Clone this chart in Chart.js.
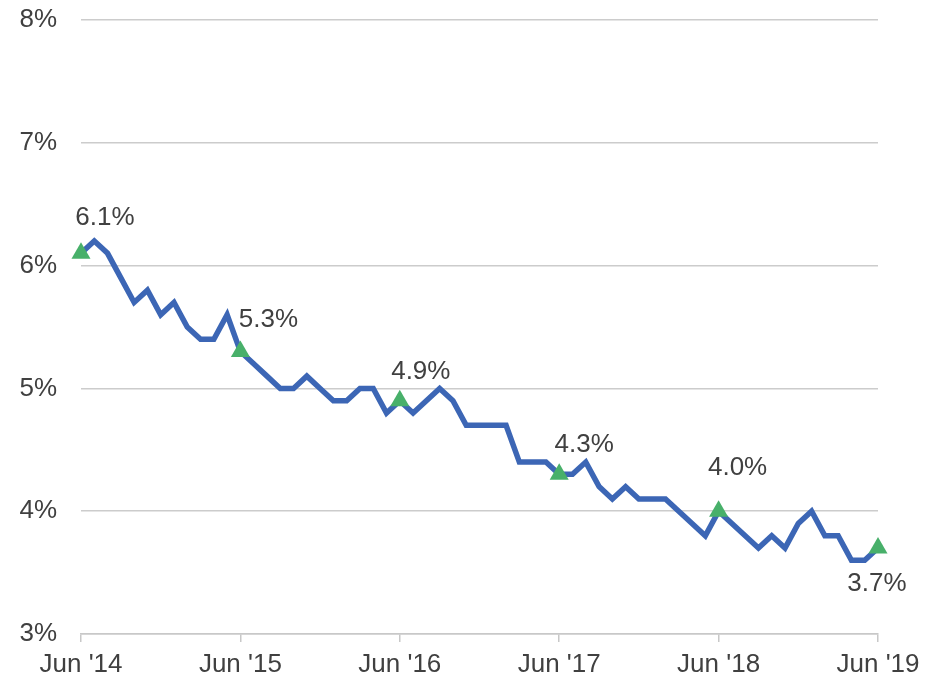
<!DOCTYPE html>
<html lang="en">
  <head>
    <meta charset="UTF-8" />
    <meta name="viewport" content="width=device-width, initial-scale=1.0" />
    <script src="https://cdn.jsdelivr.net/npm/chart.js@4/dist/chart.umd.min.js"></script>
    <style>
      html, body {
        margin: 0;
        padding: 0;
        background: #fff;
      }
      #chart-container {
        width: 940px;
        height: 678px;
      }
    </style>
    <title>Unemployment rate</title>
  </head>
  <body>
    <div id="chart-container">
      <canvas id="chart"></canvas>
    </div>
    <script>
      const months = [
        "Jun '14", "Jul '14", "Aug '14", "Sep '14", "Oct '14", "Nov '14", "Dec '14",
        "Jan '15", "Feb '15", "Mar '15", "Apr '15", "May '15", "Jun '15", "Jul '15",
        "Aug '15", "Sep '15", "Oct '15", "Nov '15", "Dec '15", "Jan '16", "Feb '16",
        "Mar '16", "Apr '16", "May '16", "Jun '16", "Jul '16", "Aug '16", "Sep '16",
        "Oct '16", "Nov '16", "Dec '16", "Jan '17", "Feb '17", "Mar '17", "Apr '17",
        "May '17", "Jun '17", "Jul '17", "Aug '17", "Sep '17", "Oct '17", "Nov '17",
        "Dec '17", "Jan '18", "Feb '18", "Mar '18", "Apr '18", "May '18", "Jun '18",
        "Jul '18", "Aug '18", "Sep '18", "Oct '18", "Nov '18", "Dec '18", "Jan '19",
        "Feb '19", "Mar '19", "Apr '19", "May '19", "Jun '19",
      ];

      const rate = [
        6.1, 6.2, 6.1, 5.9, 5.7, 5.8, 5.6, 5.7, 5.5, 5.4, 5.4, 5.6,
        5.3, 5.2, 5.1, 5.0, 5.0, 5.1, 5.0, 4.9, 4.9, 5.0, 5.0, 4.8,
        4.9, 4.8, 4.9, 5.0, 4.9, 4.7, 4.7, 4.7, 4.7, 4.4, 4.4, 4.4,
        4.3, 4.3, 4.4, 4.2, 4.1, 4.2, 4.1, 4.1, 4.1, 4.0, 3.9, 3.8,
        4.0, 3.9, 3.8, 3.7, 3.8, 3.7, 3.9, 4.0, 3.8, 3.8, 3.6, 3.6,
        3.7,
      ];

      // months that get a marker + label
      const markedMonths = ["Jun '14", "Jun '15", "Jun '16", "Jun '17", "Jun '18", "Jun '19"];
      const yTicks = [3, 4, 5, 6, 7, 8];

      const textColor = "#404040";
      const fontFamily = "'Liberation Sans', Arial, sans-serif";

      const isMarked = (i) => markedMonths.includes(months[i]);

      // label placement relative to the marker, per marked month
      const labelNudge = [
        [24, -35], [28, -32], [21, -29], [25, -30], [19, -43], [-1, 36],
      ];

      const pointLabels = {
        id: "point_labels",
        afterDatasetsDraw: (chart) => {
          const ctx = chart.ctx;
          const meta = chart.getDatasetMeta(0);
          ctx.save();
          ctx.font = "26px " + fontFamily;
          ctx.fillStyle = textColor;
          ctx.textAlign = "center";
          ctx.textBaseline = "middle";
          markedMonths.forEach((m, k) => {
            const i = months.indexOf(m);
            const p = meta.data[i];
            const [dx, dy] = labelNudge[k];
            ctx.fillText(rate[i].toFixed(1) + "%", p.x + dx, p.y + dy);
          });
          ctx.restore();
        },
      };

      const config = {
        type: "line",
        data: {
          labels: months,
          datasets: [
            {
              data: rate,
              borderColor: "#3c66b5",
              borderWidth: 5.5,
              tension: 0,
              fill: false,
              pointStyle: "triangle",
              pointRadius: (c) => (isMarked(c.dataIndex) ? 11 : 0),
              pointHoverRadius: (c) => (isMarked(c.dataIndex) ? 11 : 0),
              pointBackgroundColor: "#48b06a",
              pointBorderColor: "#48b06a",
              pointBorderWidth: 0,
            },
          ],
        },
        options: {
          responsive: true,
          maintainAspectRatio: false,
          animation: false,
          layout: {
            padding: { top: 20, right: 62, left: 0, bottom: 0 },
          },
          plugins: {
            legend: { display: false },
            tooltip: { enabled: false },
          },
          scales: {
            x: {
              type: "category",
              offset: false,
              afterFit: (scale) => {
                scale.height = 44;
              },
              border: { display: true, color: "#c8c8c8", width: 1.5 },
              grid: {
                display: true,
                drawOnChartArea: false,
                drawTicks: true,
                tickLength: 8,
                color: "#c8c8c8",
                lineWidth: 1.5,
              },
              ticks: {
                autoSkip: false,
                maxRotation: 0,
                padding: 7,
                color: textColor,
                font: { family: fontFamily, size: 26 },
                callback: (v, i) => (isMarked(i) ? months[i] : null),
              },
            },
            y: {
              min: 3,
              max: 8,
              afterFit: (scale) => {
                scale.width = 81;
                scale.paddingTop = 0;
                scale.paddingBottom = 0;
              },
              afterBuildTicks: (scale) => {
                scale.ticks = yTicks.map((v) => ({ value: v }));
              },
              border: { display: false },
              grid: {
                color: "#cccccc",
                lineWidth: 1.5,
                drawTicks: false,
              },
              ticks: {
                padding: 24,
                color: textColor,
                font: { family: fontFamily, size: 26 },
                callback: (v) => v + "%",
              },
            },
          },
        },
        plugins: [pointLabels],
      };

      const chart = new Chart(document.getElementById("chart"), config);
    </script>
  </body>
</html>
